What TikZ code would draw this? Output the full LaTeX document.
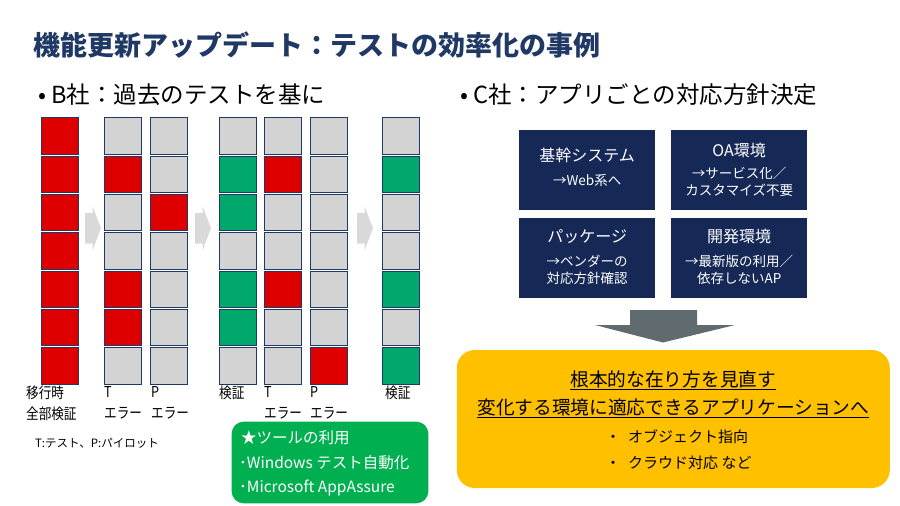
\documentclass[tikz,border=0pt]{standalone}
\usepackage{fontspec}
\setmainfont{Noto Sans CJK JP}
\newfontfamily\narrowjp{Noto Sans CJK JP}[FakeStretch=0.84]
\usetikzlibrary{positioning}

\definecolor{titlenavy}{RGB}{31,56,100}
\definecolor{boxnavy}{RGB}{21,40,86}
\definecolor{cellR}{RGB}{222,0,0}
\definecolor{cellX}{RGB}{211,211,211}
\definecolor{cellG}{RGB}{0,168,107}
\definecolor{cellline}{RGB}{31,56,100}
\definecolor{flowgray}{RGB}{217,217,217}
\definecolor{downgray}{RGB}{95,107,110}
\definecolor{toolgreen}{RGB}{0,176,80}
\definecolor{goalyellow}{RGB}{255,192,0}

\begin{document}
\begin{tikzpicture}[
  x=1pt, y=-1pt,
  heading/.style={anchor=west, inner sep=0pt, font=\fontsize{23.5}{28}\selectfont},
  cell/.style={draw=cellline, line width=1pt, minimum width=37pt, minimum height=36.5pt, inner sep=0pt},
  collabel/.style={anchor=west, align=left, inner sep=0pt, font=\narrowjp\fontsize{15}{21}\selectfont},
  flowarrow/.style={fill=flowgray},
  navybox/.style={fill=boxnavy, minimum width=135.7pt, minimum height=80pt, inner sep=0pt},
  navyhead/.style={text=white, inner sep=0pt, font=\fontsize{16}{19}\selectfont},
  navysub/.style={text=white, inner sep=0pt, align=center, font=\fontsize{13.5}{17}\selectfont},
  goaltext/.style={inner sep=0pt, font=\fontsize{18.7}{22}\selectfont},
  goalitem/.style={anchor=west, inner sep=0pt, font=\fontsize{15}{18}\selectfont},
  tooltext/.style={anchor=west, text=white, inner sep=0pt, font=\fontsize{15.5}{18}\selectfont}
]
\useasboundingbox (0,0) rectangle (900,506);

% title and headings
\node[anchor=west, text=titlenavy, inner sep=0pt, font=\fontsize{27}{32}\selectfont\bfseries] (title) at (33,45) {機能更新アップデート：テストの効率化の事例};
\node[heading] (bsha) at (38,95) {• B社：過去のテストを基に};
\node[heading] (csha) at (460,95) {• C社：アプリごとの対応方針決定};

% test columns (R = error, X = not run, G = verified)
\foreach \n/\x/\fills in {1/60.3/{R,R,R,R,R,R,R}, 2/123.3/{X,R,X,X,R,R,X},
    3/169/{X,X,R,X,X,X,X}, 4/238/{X,G,G,X,G,G,X}, 5/283.3/{X,R,X,X,R,X,X},
    6/329/{X,X,X,X,X,X,R}, 7/401.3/{X,G,X,X,G,X,G}}
  \foreach \f [count=\r] in \fills
    \node[cell, fill=cell\f] (c\n-\r) at (\x,97.6+38.33*\r) {};

\foreach \x in {85,195,357}
  \fill[flowarrow] (\x,213) -- ++(7.7,0) -- ++(0,-6.3) -- ++(8.3,21.6)
    -- ++(-8.3,21.7) -- ++(0,-6.3) -- ++(-7.7,0) -- cycle;

\node[collabel] (lab1) at (26,403) {移行時\\全部検証};
\node[collabel] (lab2) at (104,403) {T\\エラー};
\node[collabel] (lab3) at (151,403) {P\\エラー};
\node[collabel] (lab4) at (219,393) {検証};
\node[collabel] (lab5) at (264,403) {T\\エラー};
\node[collabel] (lab6) at (310,403) {P\\エラー};
\node[collabel] (lab7) at (385,393) {検証};
\node[anchor=west, inner sep=0pt, font=\fontsize{11.5}{14}\selectfont] (legend) at (35,443) {T:テスト、P:パイロット};

% tools
\node[fill=toolgreen, rounded corners=12pt, minimum width=196.7pt, minimum height=81.6pt, inner sep=0pt] (tools) at (330,462.5) {};
\node[tooltext] (tools-1) at (241,438) {★ツールの利用};
\node[tooltext] (tools-2) at (239,463) {･Windows テスト自動化};
\node[tooltext] (tools-3) at (239,488) {･Microsoft AppAssure};

% C社 policy boxes
\node[navybox] (kikan) at (587.2,170) {};
\node[navybox] (oa) at (739.2,170) {};
\node[navybox] (pkg) at (587.2,258.3) {};
\node[navybox] (dev) at (739.2,258.3) {};
\node[navyhead] (kikan-h) at (587.2,155) {基幹システム};
\node[navysub] (kikan-s) at (587.2,180) {→Web系へ};
\node[navyhead] (oa-h) at (739.2,150) {OA環境};
\node[navysub] (oa-s) at (739.2,181.7) {→サービス化／\\カスタマイズ不要};
\node[navyhead] (pkg-h) at (587.2,236.7) {パッケージ};
\node[navysub] (pkg-s) at (587.2,270) {→ベンダーの\\対応方針確認};
\node[navyhead] (dev-h) at (739.2,236.7) {開発環境};
\node[navysub] (dev-s) at (739.2,270) {→最新版の利用／\\依存しないAP};

\fill[downgray] (630,310) -- (697,310) -- (697,325) -- (735,325) -- (663,342.5)
  -- (595,325) -- (630,325) -- cycle;

% conclusion
\node[fill=goalyellow, rounded corners=18pt, minimum width=433pt, minimum height=138pt, inner sep=0pt] (goal) at (673.3,419) {};
\node[goaltext] (goal-1) at (673.3,380) {\underline{根本的な在り方を見直す}};
\node[goaltext] (goal-2) at (673.3,408) {\underline{変化する環境に適応できるアプリケーションへ}};
\node[goalitem] (goal-3) at (605.5,437) {・\hspace{7.5pt}オブジェクト指向};
\node[goalitem] (goal-4) at (605.5,463) {・\hspace{7.5pt}クラウド対応 など};
\end{tikzpicture}
\end{document}
